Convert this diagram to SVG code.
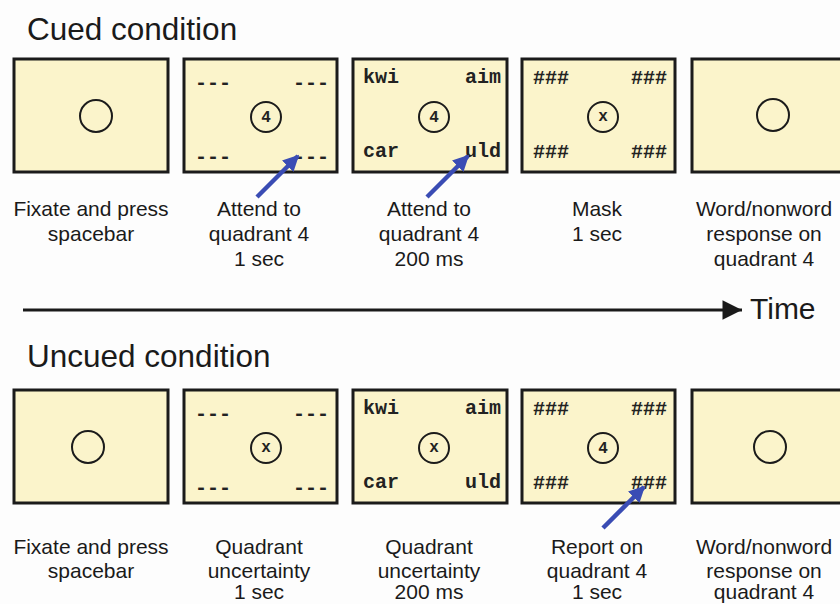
<svg xmlns="http://www.w3.org/2000/svg" width="840" height="604" viewBox="0 0 840 604">
<defs>
<style>
.bg{fill:#fdfdfd}
.frame{fill:#fbf4cb;stroke:#1b1b1b;stroke-width:3}
.circ{fill:none;stroke:#1b1b1b;stroke-width:2}
.mono{font-family:"Liberation Mono","Courier New",monospace;font-weight:bold;font-size:20px;fill:#222}
.dig{font-family:"Liberation Mono","Courier New",monospace;font-weight:bold;font-size:16px;fill:#222;text-anchor:middle}
.lab{font-family:"Liberation Sans",Arial,sans-serif;font-size:21px;fill:#1a1a1a;text-anchor:middle}
.title{font-family:"Liberation Sans",Arial,sans-serif;font-size:31.5px;fill:#1a1a1a}
.blue{stroke:#3a4cb4;stroke-width:4.5;fill:none}
</style>
<marker id="bh" viewBox="0 0 10 10" refX="9" refY="5" markerWidth="3.6" markerHeight="3.6" orient="auto" markerUnits="strokeWidth">
<path d="M0,0 L10,5 L0,10 z" fill="#3a4cb4"/>
</marker>
<marker id="th" viewBox="0 0 10 10" refX="10" refY="5" markerWidth="7" markerHeight="6.5" orient="auto" markerUnits="strokeWidth">
<path d="M0,0 L10,5 L0,10 z" fill="#1a1a1a"/>
</marker>
</defs>
<rect class="bg" x="0" y="0" width="840" height="604"/>
<text class="title" x="27" y="40">Cued condition</text>
<text class="title" x="27" y="367">Uncued condition</text>

<g id="cued-1">
<rect class="frame" x="14" y="59" width="154" height="113"/>
<circle class="circ" cx="96" cy="116" r="16"/>
</g>
<g id="cued-2">
<rect class="frame" x="184" y="59" width="153" height="113"/>
<circle class="circ" cx="266" cy="117" r="15"/>
<text class="dig" x="266" y="122">4</text>
<text class="mono" x="195" y="89">---</text>
<text class="mono" x="329" y="89" text-anchor="end">---</text>
<text class="mono" x="195" y="163">---</text>
<text class="mono" x="329" y="163" text-anchor="end">---</text>
</g>
<g id="cued-3">
<rect class="frame" x="353" y="59" width="154" height="113"/>
<circle class="circ" cx="434" cy="117" r="15"/>
<text class="dig" x="434" y="122">4</text>
<text class="mono" x="363" y="83">kwi</text>
<text class="mono" x="501" y="83" text-anchor="end">aim</text>
<text class="mono" x="363" y="157">car</text>
<text class="mono" x="501" y="157" text-anchor="end">uld</text>
</g>
<g id="cued-4">
<rect class="frame" x="522" y="59" width="153" height="113"/>
<circle class="circ" cx="603" cy="117" r="15"/>
<text class="dig" x="603" y="121">x</text>
<text class="mono" x="533" y="84">###</text>
<text class="mono" x="667" y="84" text-anchor="end">###</text>
<text class="mono" x="533" y="158">###</text>
<text class="mono" x="667" y="158" text-anchor="end">###</text>
</g>
<g id="cued-5">
<rect class="frame" x="692" y="59" width="160" height="113"/>
<circle class="circ" cx="773" cy="115" r="16"/>
</g>

<g id="uncued-1">
<rect class="frame" x="14" y="390" width="154" height="113"/>
<circle class="circ" cx="88" cy="447" r="16"/>
</g>
<g id="uncued-2">
<rect class="frame" x="184" y="390" width="153" height="113"/>
<circle class="circ" cx="266" cy="448" r="15"/>
<text class="dig" x="266" y="452">x</text>
<text class="mono" x="195" y="420">---</text>
<text class="mono" x="329" y="420" text-anchor="end">---</text>
<text class="mono" x="195" y="494">---</text>
<text class="mono" x="329" y="494" text-anchor="end">---</text>
</g>
<g id="uncued-3">
<rect class="frame" x="353" y="390" width="154" height="113"/>
<circle class="circ" cx="434" cy="448" r="15"/>
<text class="dig" x="434" y="452">x</text>
<text class="mono" x="363" y="414">kwi</text>
<text class="mono" x="501" y="414" text-anchor="end">aim</text>
<text class="mono" x="363" y="488">car</text>
<text class="mono" x="501" y="488" text-anchor="end">uld</text>
</g>
<g id="uncued-4">
<rect class="frame" x="522" y="390" width="153" height="113"/>
<circle class="circ" cx="603" cy="448" r="15"/>
<text class="dig" x="603" y="453">4</text>
<text class="mono" x="533" y="415">###</text>
<text class="mono" x="667" y="415" text-anchor="end">###</text>
<text class="mono" x="533" y="489">###</text>
<text class="mono" x="667" y="489" text-anchor="end">###</text>
</g>
<g id="uncued-5">
<rect class="frame" x="692" y="390" width="160" height="113"/>
<circle class="circ" cx="770" cy="447" r="16"/>
</g>

<g id="labels-cued">
<text class="lab" x="91" y="216">Fixate and press</text>
<text class="lab" x="91" y="241">spacebar</text>
<text class="lab" x="259" y="216">Attend to</text>
<text class="lab" x="259" y="241">quadrant 4</text>
<text class="lab" x="259" y="266">1 sec</text>
<text class="lab" x="429" y="216">Attend to</text>
<text class="lab" x="429" y="241">quadrant 4</text>
<text class="lab" x="429" y="266">200 ms</text>
<text class="lab" x="597" y="216">Mask</text>
<text class="lab" x="597" y="241">1 sec</text>
<text class="lab" x="764" y="216">Word/nonword</text>
<text class="lab" x="764" y="241">response on</text>
<text class="lab" x="764" y="266">quadrant 4</text>
</g>
<g id="labels-uncued">
<text class="lab" x="91" y="554">Fixate and press</text>
<text class="lab" x="91" y="578">spacebar</text>
<text class="lab" x="259" y="554">Quadrant</text>
<text class="lab" x="259" y="578">uncertainty</text>
<text class="lab" x="259" y="599">1 sec</text>
<text class="lab" x="429" y="554">Quadrant</text>
<text class="lab" x="429" y="578">uncertainty</text>
<text class="lab" x="429" y="599">200 ms</text>
<text class="lab" x="597" y="554">Report on</text>
<text class="lab" x="597" y="578">quadrant 4</text>
<text class="lab" x="597" y="599">1 sec</text>
<text class="lab" x="764" y="554">Word/nonword</text>
<text class="lab" x="764" y="578">response on</text>
<text class="lab" x="764" y="599">quadrant 4</text>
</g>

<g id="connectors">
<line x1="23" y1="310" x2="742" y2="310" stroke="#1a1a1a" stroke-width="3" marker-end="url(#th)"/>
<line class="blue" x1="257" y1="197" x2="298" y2="156" marker-end="url(#bh)"/>
<line class="blue" x1="427" y1="197" x2="468" y2="156" marker-end="url(#bh)"/>
<line class="blue" x1="603" y1="528" x2="644" y2="487" marker-end="url(#bh)"/>
</g>
<text class="title" x="750" y="319" style="font-size:30px">Time</text>
</svg>
